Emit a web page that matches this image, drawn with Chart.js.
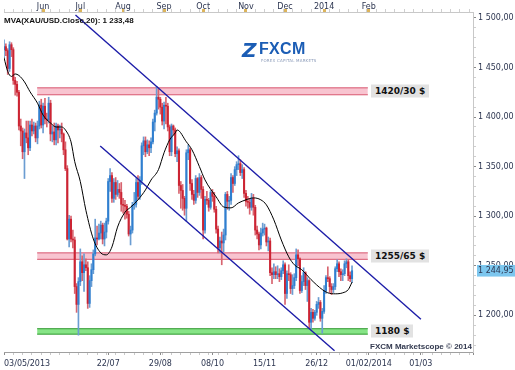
<!DOCTYPE html>
<html><head><meta charset="utf-8">
<script src="https://cdn.jsdelivr.net/npm/chart.js@4.4.1/dist/chart.umd.min.js"></script>
<style>
html,body{margin:0;padding:0;background:#fff;}
#wrap{position:relative;width:515px;height:370px;overflow:hidden;background:#fff;}
#c{position:absolute;left:0;top:0;}
.ov{position:absolute;white-space:nowrap;}
#legend{left:4px;top:16px;font:bold 8px "Liberation Sans",Arial,sans-serif;color:#111;}
.blabel{font:bold 9px "DejaVu Sans",sans-serif;color:#111;background:#e2e2e2;padding:1px 4px;line-height:11px;transform:translateY(-50%);}
#copy{left:370px;top:342px;font:bold 8px "Liberation Sans",Arial,sans-serif;color:#333a50;}
#logoZ{left:242px;top:38px;font:bold italic 20px "DejaVu Sans",sans-serif;color:#1b5db5;}
#logoT{left:259px;top:40px;font:bold 16px "Liberation Sans",Arial,sans-serif;color:#1b5db5;letter-spacing:0.3px;}
#logoS{left:261px;top:58px;font:4px "DejaVu Sans",sans-serif;color:#8a9ab8;letter-spacing:0.2px;}
</style></head>
<body>
<div id="wrap">
<canvas id="c" width="515" height="370"></canvas>
<div id="legend" class="ov">MVA(XAU/USD.Close,20): 1 233,48</div>
<div id="logoZ" class="ov">Z</div>
<div id="logoT" class="ov">FXCM</div>
<div id="logoS" class="ov">FOREX CAPITAL MARKETS</div>
<div id="copy" class="ov">FXCM Marketscope © 2014</div>
</div>
<script>
// ---- Data (daily candles, index = trading day from 03/05/2013) ----
const opens = [
1468,1471,1467,1449,1473,1468,1437,1433,1425,1391,
1386,1365,1384,1379,1369,1392,1386,1391,1379,1391,
1412,1392,1411,1398,1397,1414,1383,1385,1377,1391,
1387,1388,1383,1367,1348,1277,1297,1277,1276,1229,
1211,1234,1254,1243,1251,1248,1212,1235,1246,1262,
1278,1277,1283,1291,1277,1284,1295,1335,1341,1318,
1334,1322,1327,1324,1312,1311,1310,1302,1282,1286,
1311,1312,1334,1320,1336,1371,1376,1365,1372,1369,
1375,1395,1404,1420,1418,1410,1396,1412,1411,1390,
1365,1391,1387,1363,1366,1331,1326,1318,1308,1364,
1367,1333,1322,1316,1338,1324,1339,1327,1286,1317,
1316,1309,1324,1320,1307,1287,1268,1275,1273,1281,
1322,1315,1316,1339,1333,1347,1352,1353,1344,1347,
1323,1315,1314,1309,1318,1309,1286,1282,1271,1283,
1287,1288,1274,1275,1243,1241,1244,1241,1242,1239,
1245,1251,1222,1242,1241,1227,1230,1238,1261,1257,
1225,1234,1243,1230,1235,1193,1203,1197,1203,1211,
1213,1197,1204,1225,1238,1237,1229,1226,1229,1247,
1252,1244,1241,1242,1252,1254,1240,1237];
const highs = [
1478,1474,1469,1476,1475,1470,1440,1436,1427,1398,
1389,1388,1396,1396,1396,1398,1395,1394,1396,1416,
1418,1414,1419,1404,1420,1417,1391,1394,1394,1393,
1392,1394,1384,1375,1351,1301,1300,1286,1279,1232,
1238,1267,1260,1262,1257,1254,1240,1252,1266,1297,
1290,1292,1295,1293,1293,1298,1338,1348,1344,1338,
1339,1336,1333,1334,1318,1316,1312,1305,1290,1314,
1324,1338,1341,1340,1374,1380,1380,1377,1376,1379,
1398,1407,1431,1428,1420,1414,1415,1420,1414,1392,
1393,1392,1389,1370,1368,1335,1332,1320,1367,1372,
1369,1337,1326,1341,1339,1343,1341,1330,1320,1325,
1318,1326,1327,1324,1310,1290,1279,1284,1287,1324,
1325,1320,1343,1341,1350,1355,1361,1357,1352,1349,
1326,1320,1318,1323,1322,1311,1290,1284,1288,1293,
1292,1289,1279,1278,1248,1252,1249,1250,1247,1248,
1255,1253,1245,1251,1243,1241,1242,1267,1266,1258,
1240,1248,1244,1238,1236,1207,1206,1205,1214,1218,
1215,1207,1230,1240,1249,1239,1232,1232,1249,1256,
1254,1247,1246,1255,1257,1256,1244,1250];
const lows = [
1460,1462,1443,1446,1461,1433,1422,1421,1387,1371,
1358,1338,1374,1362,1366,1381,1383,1375,1373,1388,
1389,1384,1393,1390,1394,1376,1375,1372,1372,1374,
1379,1375,1362,1346,1276,1269,1274,1268,1222,1203,
1180,1230,1235,1224,1245,1207,1208,1229,1242,1260,
1271,1276,1277,1272,1270,1278,1292,1325,1314,1314,
1317,1320,1318,1305,1303,1297,1298,1280,1271,1283,
1307,1309,1317,1317,1332,1362,1360,1363,1361,1364,
1373,1386,1402,1408,1403,1392,1388,1393,1386,1361,
1361,1382,1360,1355,1323,1308,1306,1301,1295,1357,
1326,1317,1312,1313,1319,1321,1318,1277,1283,1312,
1305,1307,1315,1304,1283,1263,1263,1251,1264,1276,
1307,1306,1312,1324,1331,1341,1347,1341,1338,1319,
1310,1308,1302,1306,1301,1281,1277,1266,1267,1280,
1281,1270,1265,1240,1232,1237,1237,1237,1234,1236,
1242,1211,1217,1235,1222,1221,1227,1235,1250,1222,
1223,1230,1226,1214,1187,1186,1193,1195,1200,1207,
1194,1182,1202,1222,1234,1223,1221,1223,1226,1244,
1239,1235,1235,1240,1248,1235,1234,1233];
const closes = [
1471,1467,1449,1473,1468,1437,1433,1425,1391,1386,
1365,1384,1379,1369,1392,1386,1391,1379,1391,1412,
1392,1411,1398,1397,1414,1383,1385,1377,1391,1387,
1388,1383,1367,1348,1277,1297,1277,1276,1229,1211,
1234,1254,1243,1251,1248,1212,1235,1246,1262,1278,
1277,1283,1291,1277,1284,1295,1335,1341,1318,1334,
1322,1327,1324,1312,1311,1310,1302,1282,1286,1311,
1312,1334,1320,1336,1371,1376,1365,1372,1369,1375,
1395,1404,1420,1418,1410,1396,1412,1411,1390,1365,
1391,1387,1363,1366,1331,1326,1318,1308,1364,1367,
1333,1322,1316,1338,1324,1339,1327,1286,1317,1316,
1309,1324,1320,1307,1287,1268,1275,1273,1281,1322,
1315,1316,1339,1333,1347,1352,1353,1344,1347,1323,
1315,1314,1309,1318,1309,1286,1282,1271,1283,1287,
1288,1274,1275,1243,1241,1244,1241,1242,1239,1245,
1251,1222,1242,1241,1227,1230,1238,1261,1257,1225,
1234,1243,1230,1235,1193,1203,1197,1203,1211,1213,
1197,1204,1225,1238,1237,1229,1226,1229,1247,1252,
1244,1241,1242,1252,1254,1240,1237,1244.95];

// 20-period moving average at these bar indices
const maIdx = [0,2,4,6,8,11,14,18,21,25,28,31,33,36,38,41,44,48,52,55,58,61,65,68,72,76,79,83,86,89,92,93,98,101,105,108,114,118,122,126,130,134,138,141,145,149,153,156,160,165,171,174,178,182,185,187];
const maVal = [1460,1446,1441,1443.5,1442,1435.5,1425.5,1414,1402,1394,1390,1390,1387,1375,1355,1335,1306,1277,1263,1261,1269,1289,1304,1309,1316.5,1326.5,1336.5,1347,1364,1377,1384,1387,1375,1367,1350,1336.6,1319.5,1309.4,1308.4,1313.4,1316.5,1318.5,1316.5,1311.4,1296.3,1276,1259,1251,1246,1236,1226,1222.7,1221.7,1222.7,1226,1233.48];

// Trend channel (bar index, price)
const upperX = [38.4, 224], upperY = [1503, 1196];
const lowerX = [51.7, 177.6], lowerY = [1370.9, 1164.2];

// Support / resistance zones
const zoneLow = [1422.5, 1256.5, 1181];
const zoneHigh = [1429.5, 1263, 1186.5];
const zoneLabels = ['1420/30 $', '1255/65 $', '1180 $'];
const zoneFrom = 17.8, zoneTo = 195.5;

// Axis ticks
const bottomTickIdx = [0, 56, 84, 112, 140, 168, 196, 224, 252];
const bottomTickLabels = ['03/05/2013', '22/07', '29/08', '08/10', '15/11', '26/12', '01/02/2014', '01/03', ''];
const monthTickIdx = [21, 41, 64, 86, 107, 130, 151, 172, 196];
const monthTickLabels = ['Jun', 'Jul', 'Aug', 'Sep', 'Oct', 'Nov', 'Dec', '2014', 'Feb'];
const lastPrice = 1244.95;

// ---- Build ----
const fmt = v => { const p = v.toFixed(2).split('.'); return p[0].replace(/\B(?=(\d{3})+(?!\d))/g, ' ') + ',' + p[1]; };
const isUp = closes.map((c, i) => c >= opens[i]);
const bodyData = closes.map((c, i) => ({x: i, y: [opens[i], c]}));
const wickData = closes.map((c, i) => ({x: i, y: [lows[i], highs[i]]}));
const bodyCol = isUp.map(u => u ? '#2f7fd0' : '#cc2433');
const wickCol = isUp.map(u => u ? '#6b9dd2' : '#d8646f');

const zoneStyles = [
  {border: '#d8566f', fill: '#f8c4d0'},
  {border: '#d8566f', fill: '#f8c4d0'},
  {border: '#2f9a2f', fill: '#86e486'}
];
const zoneSets = [];
zoneLow.forEach((lo, k) => {
  zoneSets.push({type: 'line', order: 5, data: [{x: zoneFrom, y: zoneHigh[k]}, {x: zoneTo, y: zoneHigh[k]}],
    borderColor: zoneStyles[k].border, borderWidth: 1, pointRadius: 0, fill: false});
  zoneSets.push({type: 'line', order: 5, data: [{x: zoneFrom, y: lo}, {x: zoneTo, y: lo}],
    borderColor: zoneStyles[k].border, borderWidth: 1, pointRadius: 0, fill: '-1', backgroundColor: zoneStyles[k].fill});
});

function mkTicks(major, step, max) {
  const s = new Set(major);
  for (let v = 0; v <= max; v += step) s.add(v);
  return [...s].sort((a, b) => a - b);
}
const bottomTicks = mkTicks(bottomTickIdx, 5, 252);
const topTicks = mkTicks(monthTickIdx, 5, 252);

const axisFont = {family: 'DejaVu Sans', size: 8};
const axisColor = '#2c3550';

const chart = new Chart(document.getElementById('c'), {
  type: 'bar',
  data: {
    datasets: [
      {type: 'line', order: 0, data: upperX.map((x, i) => ({x, y: upperY[i]})), borderColor: '#1c1ca8', borderWidth: 1.4, pointRadius: 0},
      {type: 'line', order: 0, data: lowerX.map((x, i) => ({x, y: lowerY[i]})), borderColor: '#1c1ca8', borderWidth: 1.4, pointRadius: 0},
      {type: 'line', order: 1, data: maIdx.map((x, i) => ({x, y: maVal[i]})), borderColor: '#000', borderWidth: 1, pointRadius: 0, cubicInterpolationMode: 'monotone'},
      {type: 'bar', order: 2, data: bodyData, backgroundColor: bodyCol, barThickness: 1.4, grouped: false, borderWidth: 0},
      {type: 'bar', order: 3, data: wickData, backgroundColor: wickCol, barThickness: 1, grouped: false, borderWidth: 0},
      ...zoneSets
    ]
  },
  options: {
    responsive: false, animation: false, devicePixelRatio: 1,
    layout: {padding: 0},
    plugins: {legend: {display: false}, tooltip: {enabled: false}},
    scales: {
      x: {
        type: 'linear', position: 'bottom', min: 0, max: 252, offset: false,
        afterBuildTicks: s => { s.ticks = bottomTicks.map(v => ({value: v})); },
        afterFit: s => { s.height = 18; },
        ticks: {autoSkip: false, maxRotation: 0, align: 'inner', padding: 4, font: axisFont, color: axisColor,
          callback: v => { const k = bottomTickIdx.indexOf(v); return k >= 0 ? bottomTickLabels[k] : ''; }},
        grid: {drawOnChartArea: false, offset: false, tickLength: 3,
          tickColor: c => (c.tick && bottomTickIdx.includes(c.tick.value)) ? '#8a8a8a' : '#c8c8c8'},
        border: {color: '#a0a0a0'}
      },
      xTop: {
        type: 'linear', position: 'top', min: 0, max: 252, offset: false,
        afterBuildTicks: s => { s.ticks = topTicks.map(v => ({value: v})); },
        afterFit: s => { s.height = 12; },
        ticks: {autoSkip: false, maxRotation: 0, padding: -3, font: axisFont, color: axisColor,
          callback: v => { const k = monthTickIdx.indexOf(v); return k >= 0 ? monthTickLabels[k] : ''; }},
        grid: {drawOnChartArea: false, offset: false, tickLength: 3,
          tickWidth: c => (c.tick && monthTickIdx.includes(c.tick.value)) ? 3 : 1,
          tickColor: c => (c.tick && monthTickIdx.includes(c.tick.value)) ? '#dcb45a' : '#cfcfcf'},
        border: {color: '#c8c8c8'}
      },
      y: {
        type: 'linear', position: 'right', min: 1163, max: 1506,
        afterBuildTicks: s => { const t = []; for (let v = 1170; v <= 1500; v += 10) t.push({value: v}); t.push({value: lastPrice}); s.ticks = t; },
        afterFit: s => { s.width = 42; },
        ticks: {autoSkip: false, padding: 2, font: axisFont, color: axisColor,
          callback: v => (v === lastPrice || v % 50 === 0) ? fmt(v) : '',
          showLabelBackdrop: c => !!(c.tick && c.tick.value === lastPrice),
          backdropColor: c => (c.tick && c.tick.value === lastPrice) ? '#7cc6ee' : 'rgba(0,0,0,0)',
          backdropPadding: {left: 1, right: 2, top: 1, bottom: 1}},
        grid: {drawOnChartArea: false, tickLength: 3,
          tickColor: c => !c.tick ? '#ccc' : (c.tick.value === lastPrice ? 'rgba(0,0,0,0)' : (c.tick.value % 50 === 0 ? '#8a8a8a' : '#cfcfcf'))},
        border: {color: '#c8c8c8'}
      }
    }
  }
});

// zone labels positioned through the chart's scales
const wrap = document.getElementById('wrap');
zoneLabels.forEach((txt, k) => {
  const d = document.createElement('div');
  d.className = 'ov blabel';
  d.textContent = txt;
  d.style.left = Math.round(chart.scales.x.getPixelForValue(zoneTo) + 3) + 'px';
  d.style.top = Math.round(chart.scales.y.getPixelForValue((zoneLow[k] + zoneHigh[k]) / 2)) + 'px';
  wrap.appendChild(d);
});
</script>
</body></html>
